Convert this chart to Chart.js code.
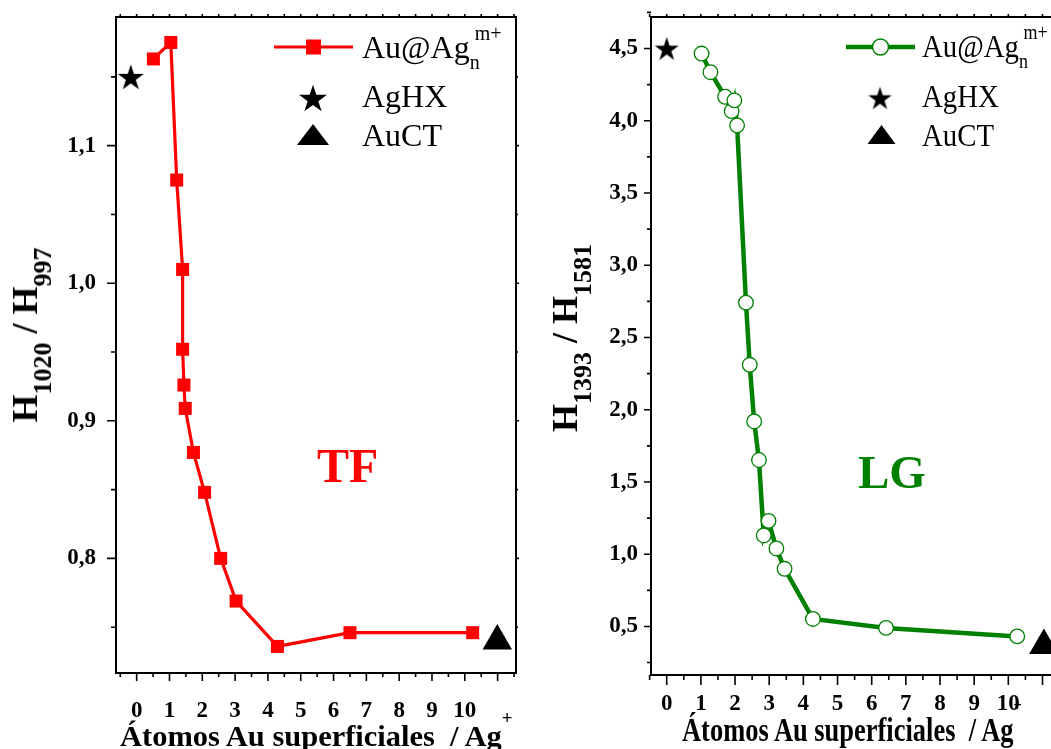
<!DOCTYPE html>
<html lang="es">
<head>
<meta charset="utf-8">
<script src="https://cdn.jsdelivr.net/npm/chart.js@4.4.1/dist/chart.umd.min.js"></script>
<style>
body { margin:0; width:1051px; height:749px; overflow:hidden; background:#fff; position:relative; font-family:'Liberation Serif','Times New Roman',serif; }
.panel { position:absolute; top:0; width:540px; height:749px; }
.txt { position:absolute; white-space:nowrap; line-height:1; color:#000; }
.rel { position:relative; }
</style>
</head>
<body>
<div class="panel" style="left:0"><canvas id="graficoTF" width="540" height="749"></canvas></div>
<div class="panel" style="left:540px"><canvas id="graficoLG" width="540" height="749"></canvas></div>
<script>
// panel TF (H1020 / H997)
const tfX = [0.51, 1.04, 1.22, 1.40, 1.40, 1.44, 1.48, 1.73, 2.07, 2.56, 3.03, 4.29, 6.50, 10.24];
const tfY = [1.163, 1.175, 1.075, 1.010, 0.952, 0.926, 0.909, 0.877, 0.848, 0.800, 0.769, 0.736, 0.746, 0.746];
const tfAgHX = [-0.18, 1.150];
const tfAuCT = [10.99, 0.740];
const tfTicksY = [0.8, 0.9, 1.0, 1.1];

// panel LG (H1393 / H1581)
const lgX = [1.02, 1.28, 1.71, 1.90, 1.98, 2.06, 2.32, 2.43, 2.56, 2.70, 2.84, 2.98, 3.21, 3.45, 4.28, 6.42, 10.26];
const lgY = [4.465, 4.336, 4.166, 4.067, 4.141, 3.968, 2.741, 2.311, 1.919, 1.652, 1.130, 1.231, 1.040, 0.899, 0.552, 0.490, 0.431];
const lgAgHX = [0, 4.50];
const lgAuCT = [11.04, 0.369];
const lgTicksY = [0.5, 1.0, 1.5, 2.0, 2.5, 3.0, 3.5, 4.0, 4.5];

const ticksX = [0, 1, 2, 3, 4, 5, 6, 7, 8, 9, 10];

const ROJO = '#ff0000';
const VERDE = '#008000';
const FUENTE = "'Liberation Serif', 'Times New Roman', serif";

function estrella(R) {
    const c = document.createElement('canvas');
    const s = Math.ceil(R * 2 + 2);
    c.width = c.height = s;
    const g = c.getContext('2d');
    const cx = s / 2, cy = s / 2 + R * (1 - Math.cos(Math.PI / 5)) / 2;
    g.beginPath();
    for (let i = 0; i < 10; i++) {
        const r = i % 2 ? R * 0.382 : R;
        const ang = -Math.PI / 2 + i * Math.PI / 5;
        g.lineTo(cx + r * Math.cos(ang), cy + r * Math.sin(ang));
    }
    g.closePath();
    g.fillStyle = '#000';
    g.fill();
    return c;
}

function triangulo(ctx, x, top, base, mitad) {
    ctx.beginPath();
    ctx.moveTo(x, top);
    ctx.lineTo(x + mitad, base);
    ctx.lineTo(x - mitad, base);
    ctx.closePath();
    ctx.fill();
}

function mitades(desde, hasta, paso) {
    const out = [];
    for (let v = desde; v <= hasta + 1e-9; v += paso) out.push(+v.toFixed(3));
    return out;
}

// marco, marcas de los ejes y simbolos de la leyenda
const marcoEjes = {
    id: 'marcoEjes',
    afterDraw(chart, args, o) {
        const { ctx, chartArea: a } = chart;
        const sx = chart.scales.x, sy = chart.scales.y;
        ctx.save();
        ctx.strokeStyle = '#000';
        ctx.lineWidth = 1.6;
        ctx.beginPath();
        o.xMayor.forEach(v => {
            const p = sx.getPixelForValue(v);
            ctx.moveTo(p, a.bottom); ctx.lineTo(p, a.bottom + o.largoX[0]);
            ctx.moveTo(p, a.top); ctx.lineTo(p, a.top - 3);
        });
        o.xMenor.forEach(v => {
            const p = sx.getPixelForValue(v);
            ctx.moveTo(p, a.bottom); ctx.lineTo(p, a.bottom + o.largoX[1]);
            ctx.moveTo(p, a.top); ctx.lineTo(p, a.top - 3);
        });
        o.yMayor.forEach(v => {
            const p = sy.getPixelForValue(v);
            ctx.moveTo(a.left, p); ctx.lineTo(a.left - o.largoY[0], p);
            ctx.moveTo(a.right, p); ctx.lineTo(a.right + 3, p);
        });
        o.yMenor.forEach(v => {
            const p = sy.getPixelForValue(v);
            ctx.moveTo(a.left, p); ctx.lineTo(a.left - o.largoY[1], p);
            ctx.moveTo(a.right, p); ctx.lineTo(a.right + 2, p);
        });
        ctx.stroke();
        ctx.lineWidth = 2;
        ctx.strokeRect(a.left, a.top, a.right - a.left, a.bottom - a.top);

        const L = o.leyenda;
        ctx.strokeStyle = L.color;
        ctx.lineWidth = L.ancho;
        ctx.beginPath();
        ctx.moveTo(L.x0, L.y); ctx.lineTo(L.x1, L.y);
        ctx.stroke();
        const xm = (L.x0 + L.x1) / 2;
        if (L.tipo === 'rect') {
            ctx.fillStyle = L.color;
            ctx.fillRect(xm - L.lado / 2, L.y - L.lado / 2, L.lado, L.lado);
        } else {
            ctx.fillStyle = '#fff';
            ctx.lineWidth = 1.5;
            ctx.beginPath();
            ctx.arc(xm, L.y, L.lado / 2, 0, Math.PI * 2);
            ctx.fill(); ctx.stroke();
        }
        const st = L.estrella;
        ctx.drawImage(st, L.xs - st.width / 2, L.ys - st.height / 2);
        ctx.fillStyle = '#000';
        triangulo(ctx, L.xt, L.tt[0], L.tt[1], L.tt[2]);
        ctx.restore();
    }
};

function ejes(cfg) {
    return {
        x: {
            type: 'linear', min: cfg.xmin, max: cfg.xmax,
            grid: { display: false }, border: { display: false },
            afterBuildTicks: s => { s.ticks = ticksX.map(value => ({ value })); },
            afterFit: s => { s.height = cfg.altoX; s.paddingLeft = 0; s.paddingRight = 0; },
            ticks: { padding: cfg.padX, color: '#000', autoSkip: false, maxRotation: 0,
                font: { family: FUENTE, weight: 'bold', size: 23 }, callback: v => String(v) }
        },
        y: {
            type: 'linear', min: cfg.ymin, max: cfg.ymax,
            grid: { display: false }, border: { display: false },
            afterBuildTicks: s => { s.ticks = cfg.ticksY.map(value => ({ value })); },
            afterFit: s => { s.width = cfg.anchoY; s.paddingTop = 0; s.paddingBottom = 0; },
            ticks: { padding: cfg.padY, color: '#000',
                font: { family: FUENTE, weight: 'bold', size: 23 },
                callback: v => v.toFixed(1).replace('.', ',') }
        }
    };
}

function crearTF() {
    const ctx = document.getElementById('graficoTF').getContext('2d');
    new Chart(ctx, {
        type: 'scatter',
        data: {
            datasets: [{
                data: tfX.map((x, i) => ({ x, y: tfY[i] })),
                showLine: true, tension: 0, borderColor: ROJO, borderWidth: 3.2,
                pointStyle: 'rect', pointRadius: 9.2, pointBackgroundColor: ROJO, pointBorderWidth: 0, clip: false
            }, {
                data: [{ x: tfAgHX[0], y: tfAgHX[1] }],
                pointStyle: estrella(13.7), clip: false
            }, {
                data: [{ x: tfAuCT[0], y: tfAuCT[1] }],
                pointStyle: 'triangle', pointRadius: 17, pointBackgroundColor: '#000', pointBorderWidth: 0, clip: false
            }]
        },
        options: {
            responsive: false, animation: false, events: [], devicePixelRatio: 1,
            layout: { padding: { left: 0, right: 24, top: 15, bottom: 0 } },
            scales: ejes({ xmin: -0.63, xmax: 11.56, ymin: 0.7167, ymax: 1.1935, ticksY: tfTicksY,
                altoX: 76, anchoY: 116, padX: 16, padY: 12 }),
            plugins: {
                legend: { display: false }, tooltip: { enabled: false },
                marcoEjes: {
                    xMayor: mitades(0, 11, 1), xMenor: mitades(-0.5, 11.5, 1),
                    yMayor: tfTicksY, yMenor: [0.75, 0.85, 0.95, 1.05, 1.15],
                    largoX: [8, 4], largoY: [9, 5],
                    leyenda: { color: ROJO, ancho: 3, x0: 274, x1: 353, y: 47, tipo: 'rect', lado: 15,
                        estrella: estrella(14.7), xs: 313, ys: 98, xt: 313, tt: [124, 145, 16] }
                }
            }
        },
        plugins: [marcoEjes]
    });
}

function crearLG() {
    const ctx = document.getElementById('graficoLG').getContext('2d');
    new Chart(ctx, {
        type: 'scatter',
        data: {
            datasets: [{
                data: lgX.map((x, i) => ({ x, y: lgY[i] })),
                showLine: true, tension: 0, borderColor: VERDE, borderWidth: 4.5,
                pointStyle: 'circle', pointRadius: 7.3, pointBackgroundColor: '#fff',
                pointBorderColor: VERDE, pointBorderWidth: 1.3, clip: false
            }, {
                data: [{ x: lgAgHX[0], y: lgAgHX[1] }],
                pointStyle: estrella(12.6), clip: false
            }, {
                data: [{ x: lgAuCT[0], y: lgAuCT[1] }],
                pointStyle: 'triangle', pointRadius: 17, pointBackgroundColor: '#000', pointBorderWidth: 0, clip: false
            }]
        },
        options: {
            responsive: false, animation: false, events: [], devicePixelRatio: 1,
            layout: { padding: { left: 0, right: 17, top: 16, bottom: 0 } },
            scales: ejes({ xmin: -0.46, xmax: 11.6, ymin: 0.164, ymax: 4.718, ticksY: lgTicksY,
                altoX: 74, anchoY: 111, padX: 7, padY: 5 }),
            plugins: {
                legend: { display: false }, tooltip: { enabled: false },
                marcoEjes: {
                    xMayor: mitades(0, 11, 1), xMenor: mitades(-0.5, 11.5, 1),
                    yMayor: lgTicksY, yMenor: mitades(0.25, 4.75, 0.5),
                    largoX: [10, 5], largoY: [7, 4],
                    leyenda: { color: VERDE, ancho: 4.5, x0: 306, x1: 375, y: 47, tipo: 'circulo', lado: 16,
                        estrella: estrella(12.3), xs: 340, ys: 98, xt: 341.5, tt: [125, 144, 14] }
                }
            }
        },
        plugins: [marcoEjes]
    });
}

// textos en HTML
function rotulo(html, x, base, size, extra) {
    const d = document.createElement('div');
    d.className = 'txt';
    d.innerHTML = html;
    d.style.fontSize = size + 'px';
    d.style.left = x + 'px';
    d.style.top = (base - 0.8375 * size) + 'px';
    Object.assign(d.style, extra || {});
    document.body.appendChild(d);
    return d;
}

function ajustar(d, ancho) {
    d.style.transformOrigin = 'left center';
    d.style.transform = 'scaleX(' + (ancho / d.offsetWidth) + ')';
}

function tituloY(html, xBase, cy) {
    const d = rotulo(html, xBase - 12.15, 0, 36, { fontWeight: 'bold' });
    d.style.top = cy + 'px';
    d.style.transform = 'translate(-50%,-50%) rotate(-90deg)';
}

function textos() {
    const sub = t => '<span class="rel" style="font-size:20px;top:11px">' + t + '</span>';
    const sup = t => '<span class="rel" style="font-size:20px;top:-18px;margin-left:-5px">' + t + '</span>';
    const auag = 'Au@Ag' + sub('n') + sup('m+');

    rotulo(auag, 362, 58, 32);
    rotulo('AgHX', 362, 107, 32);
    rotulo('AuCT', 362, 146, 32);

    const esc = { transformOrigin: 'left center', transform: 'scaleX(0.9)' };
    rotulo(auag, 921.7, 57, 32, esc);
    rotulo('AgHX', 921.7, 107, 32, esc);
    rotulo('AuCT', 921.7, 146, 32, esc);

    rotulo('TF', 317, 482, 48, { fontWeight: 'bold', color: ROJO });
    rotulo('LG', 858, 488, 47, { fontWeight: 'bold', color: VERDE });

    const s26 = t => '<span class="rel" style="font-size:26px;top:14px">' + t + '</span>';
    tituloY('H' + s26('1020') + ' / H' + s26('997'), 37, 335);
    tituloY('H' + s26('1393') + ' / H' + s26('1581'), 577, 338);

    const mas = top => '<span class="rel" style="font-size:18px;top:' + top + 'px">+</span>';
    const t1 = rotulo('Átomos Au superficiales&nbsp; / Ag' + mas(-22), 120, 746, 29, { fontWeight: 'bold' });
    ajustar(t1, 393);
    const t2 = rotulo('Átomos Au superficiales&nbsp; / Ag' + mas(-30), 682, 742, 33, { fontWeight: 'bold' });
    ajustar(t2, 340);
}

window.addEventListener('DOMContentLoaded', () => {
    crearTF();
    crearLG();
    textos();
});
</script>
</body>
</html>
